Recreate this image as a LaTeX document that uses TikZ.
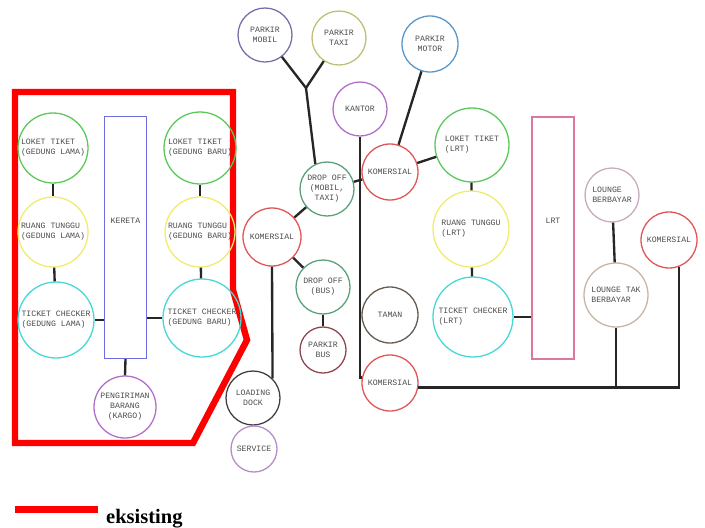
\documentclass[tikz,border=0pt]{standalone}
\usepackage{fontspec}
\setmainfont{Liberation Serif}
\setmonofont{Liberation Mono}

\definecolor{hijau}{RGB}{90,200,90}
\definecolor{kuning}{RGB}{240,235,110}
\definecolor{toska}{RGB}{70,215,215}
\definecolor{biru}{RGB}{110,110,220}
\definecolor{ungu}{RGB}{175,110,200}
\definecolor{merah}{RGB}{225,85,85}
\definecolor{mobil}{RGB}{120,110,170}
\definecolor{taxi}{RGB}{190,190,120}
\definecolor{motor}{RGB}{90,150,200}
\definecolor{drop}{RGB}{90,160,120}
\definecolor{bus}{RGB}{140,70,80}
\definecolor{taman}{RGB}{100,90,80}
\definecolor{lrt}{RGB}{220,120,160}
\definecolor{berbayar}{RGB}{200,170,190}
\definecolor{takbayar}{RGB}{200,180,160}
\definecolor{servis}{RGB}{180,140,200}

\tikzset{
  ruang/.style={circle,draw,line width=1.1pt,inner sep=0pt,align=center,
    text=black!70,font=\ttfamily\fontsize{7}{8.5}\selectfont},
  rad/.style={minimum size=#1*0.06cm},
  blok/.style={rectangle,draw,line width=1.1pt,inner sep=0pt,
    minimum width=1.27cm,minimum height=7.26cm,text depth=29pt,
    text=black!70,font=\ttfamily\fontsize{7}{8.5}\selectfont},
  link/.style={line width=2pt,black!85},
  eksis/.style={red,line width=5.5pt,line join=miter},
}

\begin{document}
\begin{tikzpicture}[x=0.03cm,y=-0.03cm]
\useasboundingbox (0,0) rectangle (705,527);

\draw[eksis] (15,92) -- (233,92) -- (233,290) -- (247,340) -- (193,443) -- (15,443) -- cycle;

\node[ruang,rad=35,draw=hijau,align=left] (loketlama) at (53,148) {LOKET TIKET\\(GEDUNG LAMA)};
\node[ruang,rad=35,draw=kuning,align=left] (tunggulama) at (53,232) {RUANG TUNGGU\\(GEDUNG LAMA)};
\node[ruang,rad=38,draw=toska,align=left] (cekerlama) at (56,320) {TICKET CHECKER\\(GEDUNG LAMA)};
\node[blok,draw=biru] (kereta) at (125.5,237.5) {KERETA};
\node[ruang,rad=36,draw=hijau,align=left] (loketbaru) at (200,148) {LOKET TIKET\\(GEDUNG BARU)};
\node[ruang,rad=35,draw=kuning,align=left] (tunggubaru) at (200,232) {RUANG TUNGGU\\(GEDUNG BARU)};
\node[ruang,rad=39,draw=toska,align=left] (cekerbaru) at (202,318) {TICKET CHECKER\\(GEDUNG BARU)};
\node[ruang,rad=31,draw=ungu] (kirim) at (125,407) {PENGIRIMAN\\BARANG\\(KARGO)};

\node[ruang,rad=27,draw=mobil] (pmobil) at (265,35) {PARKIR\\MOBIL};
\node[ruang,rad=27,draw=taxi] (ptaxi) at (339,38) {PARKIR\\TAXI};
\coordinate (cabang) at (306,88);
\node[ruang,rad=27,draw=drop] (dropmobil) at (327,189) {DROP OFF\\(MOBIL,\\TAXI)};
\node[ruang,rad=29,draw=merah] (kommid) at (272,237) {KOMERSIAL};
\node[ruang,rad=27,draw=drop] (dropbus) at (323,287) {DROP OFF\\(BUS)};
\node[ruang,rad=23,draw=bus] (pbus) at (323,350) {PARKIR\\BUS};
\node[ruang,rad=27,draw=black!75] (loading) at (253,398) {LOADING\\DOCK};
\node[ruang,rad=23,draw=servis] (service) at (254,449) {SERVICE};

\node[ruang,rad=27,draw=ungu] (kantor) at (360,109) {KANTOR};
\node[ruang,rad=28,draw=motor] (pmotor) at (430,44) {PARKIR\\MOTOR};
\node[ruang,rad=28,draw=merah] (komatas) at (390,172) {KOMERSIAL};
\node[ruang,rad=28,draw=taman] (taman) at (390,315) {TAMAN};
\node[ruang,rad=28,draw=merah] (kombawah) at (390,383) {KOMERSIAL};

\node[ruang,rad=37,draw=hijau,align=left] (loketlrt) at (472,145) {LOKET TIKET\\(LRT)};
\node[ruang,rad=38,draw=kuning,align=left] (tunggulrt) at (471,229) {RUANG TUNGGU\\(LRT)};
\node[ruang,rad=40,draw=toska,align=left] (cekerlrt) at (473,317) {TICKET CHECKER\\(LRT)};
\node[blok,draw=lrt,minimum width=1.26cm] (lrt) at (553,238) {LRT};

\node[ruang,rad=27,draw=berbayar,align=left] (lounge) at (612,195) {LOUNGE\\BERBAYAR};
\node[ruang,rad=32,draw=takbayar,align=left] (loungetak) at (616,295) {LOUNGE TAK\\BERBAYAR};
\node[ruang,rad=28,draw=merah] (komkanan) at (669,240) {KOMERSIAL};

\foreach \a/\b in {loketlama/tunggulama,tunggulama/cekerlama,loketbaru/tunggubaru,
  tunggubaru/cekerbaru,loketlrt/tunggulrt,tunggulrt/cekerlrt,pmobil/cabang,ptaxi/cabang,
  dropmobil/kommid,kommid/dropbus,dropbus/pbus,dropmobil/komatas,pmotor/komatas,
  komatas/loketlrt,lounge/loungetak}
  \draw[link] (\a) -- (\b);
\draw[link] (cekerlama.east) -- (cekerlama.east -| kereta.west);
\draw[link] (cekerbaru.west) -- (cekerbaru.west -| kereta.east);
\draw[link] (kereta.south) -- (kirim.north);
\draw[link] (cekerlrt.east) -- (cekerlrt.east -| lrt.west);
\draw[link] (cabang) -- (dropmobil.115);
\draw[link] (kommid.south) -- (loading.north east);
\draw[link] (kantor.south) |- (kombawah.169);
\draw[link] (kantor.south |- taman.west) -- (taman.west);
\draw[link] (kombawah.351) -| (komkanan.290);
\draw[link] (loungetak.south) -- (loungetak.south |- kombawah.351);

\draw[eksis] (15,509.5) -- (98,509.5);
\node[anchor=base west,font=\bfseries\fontsize{17.5}{20}\selectfont,inner sep=0pt] (ket) at (106,523) {eksisting};
\end{tikzpicture}
\end{document}
